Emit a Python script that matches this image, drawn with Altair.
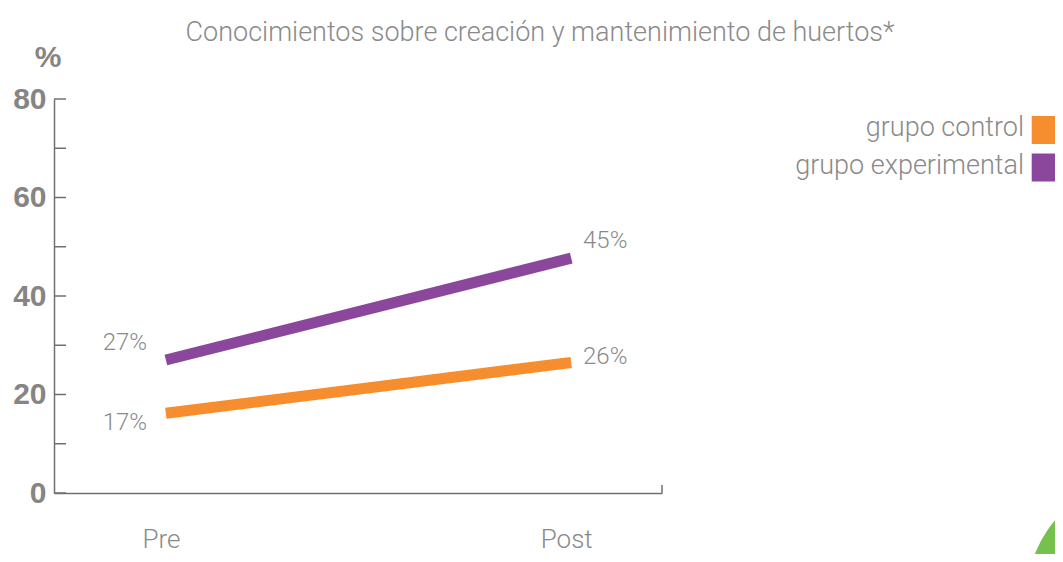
import altair as alt
import pandas as pd

# ---- data ----
categories = ["Pre", "Post"]
series = ["grupo control", "grupo experimental"]
control = [16.2, 26.5]
experimental = [27.0, 47.7]
control_labels = ["17%", "26%"]
experimental_labels = ["27%", "45%"]
y_ticks = [0, 10, 20, 30, 40, 50, 60, 70, 80]
y_labels = [0, 20, 40, 60, 80]
title_text = "Conocimientos sobre creación y mantenimiento de huertos*"
colors = ["#F68D2E", "#8B479B"]

rows = []
for s, vals, labs in [(series[0], control, control_labels),
                      (series[1], experimental, experimental_labels)]:
    for c, v, l in zip(categories, vals, labs):
        rows.append({"serie": s, "momento": c, "valor": v, "etiqueta": l})
df = pd.DataFrame(rows)

GRAY = "#8a8a8a"
AXIS = "#707070"
LIGHT = "Roboto"

xscale = alt.Scale(type="point", domain=categories, padding=0.25, align=0.552)
yscale = alt.Scale(domain=[0, 80], nice=False, zero=True)

x_axis = alt.Axis(title=None, domain=True, domainColor=AXIS, domainWidth=1.5,
                  ticks=False, grid=False, labelFont=LIGHT, labelFontWeight=300,
                  labelFontSize=26, labelColor=GRAY, labelPadding=54, labelOffset=-5,
                  labelBaseline="alphabetic", labelAngle=0)
y_axis = alt.Axis(title=None, values=y_labels, ticks=False, tickSize=0, grid=False,
                  domainColor=AXIS, domainWidth=1.5, labelFont="Liberation Sans",
                  labelFontWeight="bold", labelFontSize=30, labelColor="#858585",
                  labelPadding=8)

lines = alt.Chart(df).mark_line(strokeWidth=11, strokeCap="butt").encode(
    x=alt.X("momento:N", scale=xscale, sort=categories, axis=x_axis),
    y=alt.Y("valor:Q", scale=yscale, axis=y_axis),
    color=alt.Color("serie:N", scale=alt.Scale(domain=series, range=colors), legend=None),
)

# minor/major ticks pointing inward
ticks = alt.Chart(pd.DataFrame({"valor": y_ticks})).mark_rule(color=AXIS, strokeWidth=1.5).encode(
    y=alt.Y("valor:Q", scale=yscale),
    x=alt.value(0), x2=alt.value(12),
)

# end tick of x axis
end_tick = alt.Chart(pd.DataFrame({"a": [0]})).mark_rule(color=AXIS, strokeWidth=1.5).encode(
    x=alt.value(608), y=alt.value(394), y2=alt.value(386),
)

# value labels
offsets = {
    (series[0], "Pre"): (-41, 10),
    (series[0], "Post"): (34, -5),
    (series[1], "Pre"): (-41, -17),
    (series[1], "Post"): (34, -17),
}
label_layers = []
for (s, c), (dx, dy) in offsets.items():
    sub = df[(df.serie == s) & (df.momento == c)]
    label_layers.append(
        alt.Chart(sub).mark_text(font=LIGHT, fontWeight=300, fontSize=24, color=GRAY,
                                 align="center", baseline="middle", dx=dx, dy=dy).encode(
            x=alt.X("momento:N", scale=xscale, sort=categories),
            y=alt.Y("valor:Q", scale=yscale),
            text="etiqueta:N",
        )
    )

one = pd.DataFrame({"a": [0]})

title = alt.Chart(one).mark_text(text=title_text, font=LIGHT, fontWeight=300, fontSize=27,
                                 color=GRAY, align="center", baseline="middle").encode(
    x=alt.value(486), y=alt.value(-66))

pct = alt.Chart(one).mark_text(text="%", font="Liberation Sans", fontWeight="bold",
                               fontSize=30, color="#858585", align="center",
                               baseline="middle").encode(x=alt.value(-6), y=alt.value(-41))

legend_layers = []
for i, (s, col) in enumerate(zip(series, colors)):
    yc = 31 + i * 37.5
    legend_layers.append(
        alt.Chart(one).mark_text(text=s, font=LIGHT, fontWeight=300, fontSize=27, color=GRAY,
                                 align="right", baseline="middle").encode(
            x=alt.value(970), y=alt.value(yc - 2)))
    legend_layers.append(
        alt.Chart(one).mark_square(size=784, color=col, opacity=1, filled=True).encode(
            x=alt.value(991.7), y=alt.value(yc)))

green = alt.Chart(one).mark_circle(color="#76C04E", opacity=1, size=61504).encode(
    x=alt.value(1096), y=alt.value(501))

chart = alt.layer(lines, ticks, end_tick, *label_layers, title, pct, *legend_layers, green).properties(
    width=608, height=394,
    padding={"left": 46, "top": 91, "right": 393, "bottom": 61},
    autosize=alt.AutoSizeParams(type="none"),
).configure_view(stroke=None)

chart.save("out.html", embed_options={"renderer": "svg", "actions": False})
